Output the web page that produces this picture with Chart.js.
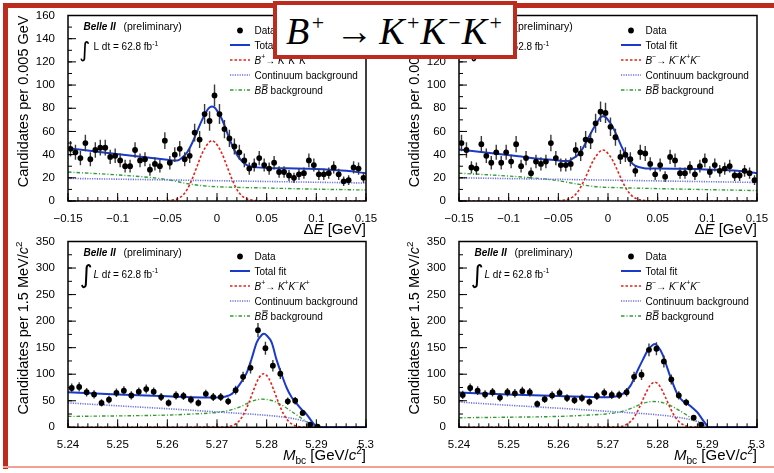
<!DOCTYPE html>
<html>
<head>
<meta charset="utf-8">
<script src="https://cdn.jsdelivr.net/npm/chart.js@4.4.1/dist/chart.umd.min.js"></script>
<style>
  html, body { margin: 0; padding: 0; background: #fff; }
  body { width: 774px; height: 473px; position: relative; overflow: hidden; }
  canvas { position: absolute; }
  .red { position: absolute; background: #bd2b1f; }
  #title {
    position: absolute; left: 273px; top: 1px; width: 244px; height: 58px;
    box-sizing: border-box; border: 4.5px solid #bd2b1f; background: #fff;
    font-family: "Liberation Serif", "DejaVu Serif", serif; font-size: 38px; color: #000;
    white-space: nowrap; z-index: 5;
  }
  #title .txt { position: absolute; left: 9px; top: 6px; line-height: 40px; }
  #title i { font-style: italic; }
  #title .sup { position: relative; top: -14px; font-size: 22px; margin: 0 1px 0 2.5px; }
  #title .ar { margin: 0 6px 0 10px; }
</style>
</head>
<body>
<canvas id="c1" width="387" height="240" style="left:0;top:0"></canvas>
<canvas id="c2" width="387" height="240" style="left:387px;top:0"></canvas>
<canvas id="c3" width="387" height="245" style="left:0;top:228px"></canvas>
<canvas id="c4" width="387" height="245" style="left:387px;top:228px"></canvas>
<div class="red" style="left:3px;top:3px;width:4.5px;height:466px"></div>
<div class="red" style="left:3px;top:3px;width:771px;height:4.5px"></div>
<div style="position:absolute;left:3px;top:466px;width:771px;height:1.5px;background:#f2a093"></div>
<div id="title"><span class="txt"><i>B</i><span class="sup">+</span><span class="ar">→</span><i>K</i><span class="sup">+</span><i>K</i><span class="sup">−</span><i>K</i><span class="sup">+</span></span></div>
<script>
'use strict';

const F = '"Liberation Sans", Arial, sans-serif';

// binning: ΔE in GeV, Mbc in GeV/c^2
const DE_LO = -0.15, DE_BIN = 0.005;
const MBC_LO = 5.24, MBC_BIN = 0.0015;

// candidates per bin
const dePlus = [45,42,37,50,36,44,46,46,38,39,35,30,30,44,35,36,27,32,30,52,33,40,45,36,39,59,53,75,69,91,
                75,62,54,47,42,35,28,31,37,31,28,33,25,25,22,20,23,24,35,31,23,23,24,29,23,17,18,29,28,20];
const deMinus = [50,44,29,28,49,39,33,42,33,42,34,49,30,37,24,34,32,34,50,37,31,31,32,44,41,53,52,67,77,76,
                 64,55,38,40,36,26,42,41,32,23,31,21,38,35,24,24,29,23,30,35,25,31,26,28,30,22,22,26,24,18];
const mbcPlus = [74,76,66,62,46,52,65,69,60,67,72,67,57,46,60,59,52,46,63,57,57,49,70,95,112,183,149,116,101,49,50,27,5,1];
const mbcMinus = [61,74,69,62,66,56,66,64,68,66,44,53,60,65,55,51,55,48,59,65,61,61,66,95,99,146,148,124,90,60,47,18,5];

// fit curves, sampled along each curve
const deFitX = [-0.15,-0.13,-0.11,-0.09,-0.07,-0.05,-0.045,-0.04,-0.035,-0.03,-0.025,-0.02,-0.015,-0.01,-0.0075,-0.005,-0.0025,
                0,0.005,0.01,0.015,0.02,0.025,0.03,0.035,0.04,0.05,0.07,0.09,0.11,0.13,0.15];
const dePlusTotal = [45.5,43.5,41.5,39.5,37.5,35.5,35,35,37.5,42,50,60,70,78,80.6,81.5,80.6,
                     78,70.5,59.5,48.5,40,34.5,31,29.5,29,28.5,28.2,27.8,27.2,26,24];
const deMinusTotal = [44.5,42.5,40.5,38.5,36.5,35,34.5,34.5,37,40,46,54,62,69,72.2,73,72.2,
                      70,63.5,54,44.5,37,32,29.5,28.5,28,28,27.8,27.5,27,26,24];
const dePlusSig = [0,0,0,0,0,0.3,0.8,1.8,4.5,10,19,30,41,48.5,51,52,51,
                   48.5,41,30,19,10,4.5,1.8,0.8,0.3,0.05,0,0,0,0,0];
const deMinusSig = [0,0,0,0,0,0.25,0.7,1.5,3.8,8.5,16,25.4,34.7,41,43.2,44,43.2,
                    41,34.7,25.4,16,8.5,3.8,1.5,0.7,0.25,0.05,0,0,0,0,0];
const deContX = [-0.15, 0.15];
const dePlusCont = [19.5, 15.5];
const deMinusCont = [20, 16];
const deBBX = [-0.15,-0.1,-0.07,-0.05,-0.03,-0.01,0.01,0.05,0.1,0.15];
const dePlusBB = [25,22.5,20.5,18.5,15,12.8,12,11.2,10.2,9.5];
const deMinusBB = [24,21.5,19.5,17.5,14.5,12.2,11.5,10.7,9.8,9];

const mbcFitX = [5.24,5.25,5.26,5.27,5.2715,5.273,5.2745,5.276,5.277,5.278,5.279,5.2795,5.28,
                 5.281,5.282,5.283,5.284,5.285,5.286,5.287,5.288,5.289,5.2897,5.2903,5.3];
const mbcPlusTotal = [66,62,58.5,56,57.5,63,80,103,130,160,174,176,173,160,127,100,75,57,45,34,25,12,4,0,0];
const mbcMinusTotal = [65.5,62,59,56.5,58,63,78,108,127,145,155,157,153,137,110,84,62,50,44,37,28,15,6,0,0];
const mbcSigX = [5.24,5.2714,5.2724,5.2734,5.2744,5.2754,5.2764,5.2774,5.2784,5.2794,
                 5.2804,5.2814,5.2824,5.2834,5.2844,5.2854,5.2864,5.2874,5.3];
const mbcPlusSig = [0,0.4,1.4,4.4,11.5,25,46,71,92.6,101,92.6,71,46,25,11.5,4.4,1.4,0.4,0];
const mbcMinusSig = [0,0.35,1.2,3.7,9.7,21,39,60,78,85,78,60,39,21,9.7,3.7,1.2,0.35,0];
const mbcBBX = [5.24,5.25,5.26,5.265,5.27,5.2725,5.275,5.277,5.279,5.281,5.283,5.285,5.287,5.289,5.2903,5.3];
const mbcPlusBB = [20.5,21.5,23,25,28,32,40,49,53,50.5,42,30,17,5,0,0];
const mbcMinusBB = [18,19,20.5,22.5,25.5,29,37,45,48.5,46.5,39,28,16,5,0,0];
const mbcContX = [5.24,5.25,5.26,5.27,5.28,5.284,5.287,5.289,5.2903,5.3];
const mbcPlusCont = [46,40.5,35,29,22.5,18.5,13,7,0,0];
const mbcMinusCont = [47.5,41.5,36,30,23.5,19,13.5,7.5,0,0];

// axis ticks
const deTicks = [-0.15,-0.1,-0.05,0,0.05,0.1,0.15];
const deTickLabels = ['\u22120.15','\u22120.1','\u22120.05','0','0.05','0.1','0.15'];
const deYTicks = [0,20,40,60,80,100,120,140,160];
const mbcTicks = [5.24,5.25,5.26,5.27,5.28,5.29,5.3];
const mbcTickLabels = ['5.24','5.25','5.26','5.27','5.28','5.29','5.3'];
const mbcYTicks = [0,50,100,150,200,250,300,350];

const TOTAL = { color: '#1a3acb', width: 2, dash: [] };
const SIG = { color: '#e3241b', width: 1.6, dash: [2.5, 2] };
const CONT = { color: '#6c72e8', width: 1.6, dash: [1.2, 1.2] };
const BB = { color: '#2e9e32', width: 1.4, dash: [3.5, 2, 1, 2] };

function range(lo, hi, step) {
  const out = [];
  const n = Math.round((hi - lo) / step);
  for (let i = 0; i <= n; i++) out.push(lo + i * step);
  return out;
}

// segs: [text, style] ; style n=normal i=italic b=bold italic s=sup u=sub o=italic+overline
function rich(ctx, segs, x, y, size, align) {
  const fontOf = s => {
    const st = s[1] || 'n';
    const sz = (st === 's' || st === 'u') ? size * 0.68 : size;
    const pre = (st === 'i' || st === 'o') ? 'italic ' : st === 'b' ? 'bold italic ' : '';
    return pre + sz + 'px ' + F;
  };
  let w = 0;
  segs.forEach(s => { ctx.font = fontOf(s); w += ctx.measureText(s[0]).width; });
  let cx = align === 'right' ? x - w : align === 'center' ? x - w / 2 : x;
  segs.forEach(s => {
    ctx.font = fontOf(s);
    const dy = s[1] === 's' ? -size * 0.42 : s[1] === 'u' ? size * 0.25 : 0;
    const tw = ctx.measureText(s[0]).width;
    ctx.fillText(s[0], cx, y + dy);
    if (s[1] === 'o') {
      ctx.save(); ctx.lineWidth = 0.9; ctx.setLineDash([]); ctx.strokeStyle = ctx.fillStyle;
      ctx.beginPath(); ctx.moveTo(cx + size * 0.12, y - size * 0.86); ctx.lineTo(cx + tw, y - size * 0.86); ctx.stroke();
      ctx.restore();
    }
    cx += tw;
  });
}

const rootStyle = {
  id: 'rootStyle',
  beforeDatasetDraw(chart, args) {
    if (args.index !== 0) return;
    const { ctx, chartArea: a, scales: { x, y } } = chart;
    ctx.save();
    ctx.beginPath(); ctx.rect(a.left, a.top, a.width, a.height); ctx.clip();
    ctx.strokeStyle = '#3a3a3a'; ctx.lineWidth = 1.4;
    chart.data.datasets[0].data.forEach(p => {
      const e = Math.sqrt(p.y); // poisson error bar
      const px = x.getPixelForValue(p.x);
      ctx.beginPath();
      ctx.moveTo(px, y.getPixelForValue(p.y - e));
      ctx.lineTo(px, y.getPixelForValue(p.y + e));
      ctx.stroke();
    });
    ctx.restore();
  },
  afterDraw(chart) {
    const o = chart.options.plugins.rootStyle;
    const { ctx, chartArea: a, scales: { x, y } } = chart;
    ctx.save();
    ctx.strokeStyle = '#000'; ctx.fillStyle = '#000'; ctx.lineWidth = 1;
    ctx.beginPath();
    o.xMinor.forEach(v => { const p = x.getPixelForValue(v); ctx.moveTo(p, a.bottom); ctx.lineTo(p, a.bottom - 4); });
    o.xMajor.forEach(v => { const p = x.getPixelForValue(v); ctx.moveTo(p, a.bottom); ctx.lineTo(p, a.bottom - 8); });
    o.yMinor.forEach(v => { const p = y.getPixelForValue(v); ctx.moveTo(a.left, p); ctx.lineTo(a.left + 4, p); });
    o.yMajor.forEach(v => { const p = y.getPixelForValue(v); ctx.moveTo(a.left, p); ctx.lineTo(a.left + 8, p); });
    ctx.stroke();
    ctx.lineWidth = 1.5;
    ctx.strokeRect(a.left, a.top, a.right - a.left, a.bottom - a.top);

    // axis titles
    rich(ctx, o.xTitle, a.right, a.bottom + 33, 15, 'right');
    ctx.save();
    ctx.translate(a.left - 40, a.top);
    ctx.rotate(-Math.PI / 2);
    rich(ctx, o.yTitle, 0, 0, 14.5, 'right');
    ctx.restore();

    // experiment label
    rich(ctx, [['Belle II', 'b']], a.left + 15.5, a.top + 14, 10);
    rich(ctx, [['(preliminary)']], a.left + 55.5, a.top + 14, 10.5);
    ctx.font = o.intSize + 'px "DejaVu Sans", sans-serif';
    ctx.fillText('\u222B', a.left + 11.5, a.top + 41);
    rich(ctx, o.lumi, a.left + 25.5, a.top + o.lumiY, 10);

    // legend
    const rows = [15, 29.5, 44.5, 59.5, 74.5].map(d => a.top + d);
    const tx = a.right - 111.5;
    ctx.beginPath(); ctx.arc(a.right - 126, rows[0], 2.9, 0, 2 * Math.PI); ctx.fill();
    [TOTAL, SIG, CONT, BB].forEach((st, i) => {
      ctx.setLineDash(st.dash); ctx.strokeStyle = st.color; ctx.lineWidth = st.width;
      ctx.beginPath(); ctx.moveTo(a.right - 136, rows[i + 1]); ctx.lineTo(a.right - 116, rows[i + 1]); ctx.stroke();
    });
    ctx.setLineDash([]);
    const labels = [[['Data']], [['Total fit']], o.sigLabel, [['Continuum background']],
                    [['B', 'i'], ['B', 'o'], [' background']]];
    labels.forEach((segs, i) => rich(ctx, segs, tx, rows[i] + 3.5, 10));
    ctx.restore();
  }
};

function curve(xs, ys, st) {
  return {
    data: xs.map((v, i) => ({ x: v, y: ys[i] })),
    showLine: true, pointRadius: 0, fill: false,
    borderColor: st.color, borderWidth: st.width, borderDash: st.dash,
    cubicInterpolationMode: 'monotone'
  };
}

function makePanel(id, p) {
  const centers = p.counts.map((_, i) => p.lo + (i + 0.5) * p.bin);
  const TICK = { color: '#000', font: { family: F, size: 11.5 } };
  return new Chart(document.getElementById(id).getContext('2d'), {
    type: 'scatter',
    plugins: [rootStyle],
    data: {
      datasets: [
        { data: centers.map((c, i) => ({ x: c, y: p.counts[i] })), showLine: false,
          pointRadius: 2.9, pointBackgroundColor: '#000', pointBorderWidth: 0 },
        curve(p.totX, p.tot, TOTAL),
        curve(p.sigX, p.sig, SIG),
        curve(p.contX, p.cont, CONT),
        curve(p.bbX, p.bb, BB)
      ]
    },
    options: {
      responsive: false, animation: false, events: [], devicePixelRatio: 1,
      layout: { padding: { top: p.padTop, right: p.padRight, left: 0, bottom: 0 } },
      plugins: {
        legend: { display: false }, tooltip: { enabled: false },
        rootStyle: {
          xMajor: p.xTicks, xMinor: p.xMinor, yMajor: p.yTicks, yMinor: p.yMinor,
          xTitle: p.xTitle, yTitle: p.yTitle, sigLabel: p.sigLabel, lumi: p.lumi,
          intSize: p.intSize, lumiY: p.lumiY
        }
      },
      scales: {
        x: {
          type: 'linear', min: p.xMin, max: p.xMax,
          grid: { display: false }, border: { display: false },
          afterBuildTicks: s => { s.ticks = p.xTicks.map(v => ({ value: v })); },
          afterFit: s => { s.height = p.xH; },
          ticks: { ...TICK, padding: 3, autoSkip: false, maxRotation: 0, callback: (v, i) => p.xLabels[i] }
        },
        y: {
          type: 'linear', min: 0, max: p.yMax,
          grid: { display: false }, border: { display: false },
          afterBuildTicks: s => { s.ticks = p.yTicks.map(v => ({ value: v })); },
          afterFit: s => { s.width = p.yW; },
          ticks: { ...TICK, padding: 5, autoSkip: false, callback: v => String(v) }
        }
      }
    }
  });
}

const sigPlusLabel = [['B', 'i'], ['+', 's'], ['\u2192 '], ['K', 'i'], ['+', 's'], ['K', 'i'], ['\u2212', 's'], ['K', 'i'], ['+', 's']];
const sigMinusLabel = [['B', 'i'], ['\u2212', 's'], ['\u2192 '], ['K', 'i'], ['\u2212', 's'], ['K', 'i'], ['+', 's'], ['K', 'i'], ['\u2212', 's']];
const deXTitle = [['\u0394'], ['E', 'i'], [' [GeV]']];
const mbcXTitle = [['M', 'i'], ['bc', 'u'], [' [GeV/'], ['c', 'i'], ['2', 's'], [']']];
const deYTitle = [['Candidates per 0.005 GeV']];
const mbcYTitle = [['Candidates per 1.5 MeV/'], ['c', 'i'], ['2', 's']];
const lumiTop = [['L dt = 62.8 fb'], ['-1', 's']];
const lumiBottom = [['L', 'i'], [' d'], ['t', 'i'], [' = 62.8 fb'], ['-1', 's']];

const deCommon = {
  lo: DE_LO, bin: DE_BIN, xMin: -0.15, xMax: 0.15, yMax: 160,
  xTicks: deTicks, xLabels: deTickLabels, xMinor: range(-0.15, 0.15, 0.01),
  yTicks: deYTicks, yMinor: range(0, 160, 10),
  xTitle: deXTitle, yTitle: deYTitle, lumi: lumiTop, intSize: 21, lumiY: 34.5,
  totX: deFitX, sigX: deFitX, contX: deContX, bbX: deBBX,
  padTop: 15.5, xH: 39
};
const mbcCommon = {
  lo: MBC_LO, bin: MBC_BIN, xMin: 5.24, xMax: 5.3, yMax: 350,
  xTicks: mbcTicks, xLabels: mbcTickLabels, xMinor: range(5.24, 5.3, 0.002),
  yTicks: mbcYTicks, yMinor: range(0, 350, 25),
  xTitle: mbcXTitle, yTitle: mbcYTitle, lumi: lumiBottom, intSize: 25, lumiY: 36,
  totX: mbcFitX, sigX: mbcSigX, contX: mbcContX, bbX: mbcBBX,
  padTop: 13.5, xH: 45.7
};

makePanel('c1', { ...deCommon, counts: dePlus, tot: dePlusTotal, sig: dePlusSig, cont: dePlusCont, bb: dePlusBB,
  sigLabel: sigPlusLabel, yW: 68, padRight: 21 });
makePanel('c2', { ...deCommon, counts: deMinus, tot: deMinusTotal, sig: deMinusSig, cont: deMinusCont, bb: deMinusBB,
  sigLabel: sigMinusLabel, yW: 72, padRight: 17 });
makePanel('c3', { ...mbcCommon, counts: mbcPlus, tot: mbcPlusTotal, sig: mbcPlusSig, cont: mbcPlusCont, bb: mbcPlusBB,
  sigLabel: sigPlusLabel, yW: 68, padRight: 21 });
makePanel('c4', { ...mbcCommon, counts: mbcMinus, tot: mbcMinusTotal, sig: mbcMinusSig, cont: mbcMinusCont, bb: mbcMinusBB,
  sigLabel: sigMinusLabel, yW: 72, padRight: 17 });
</script>
</body>
</html>
